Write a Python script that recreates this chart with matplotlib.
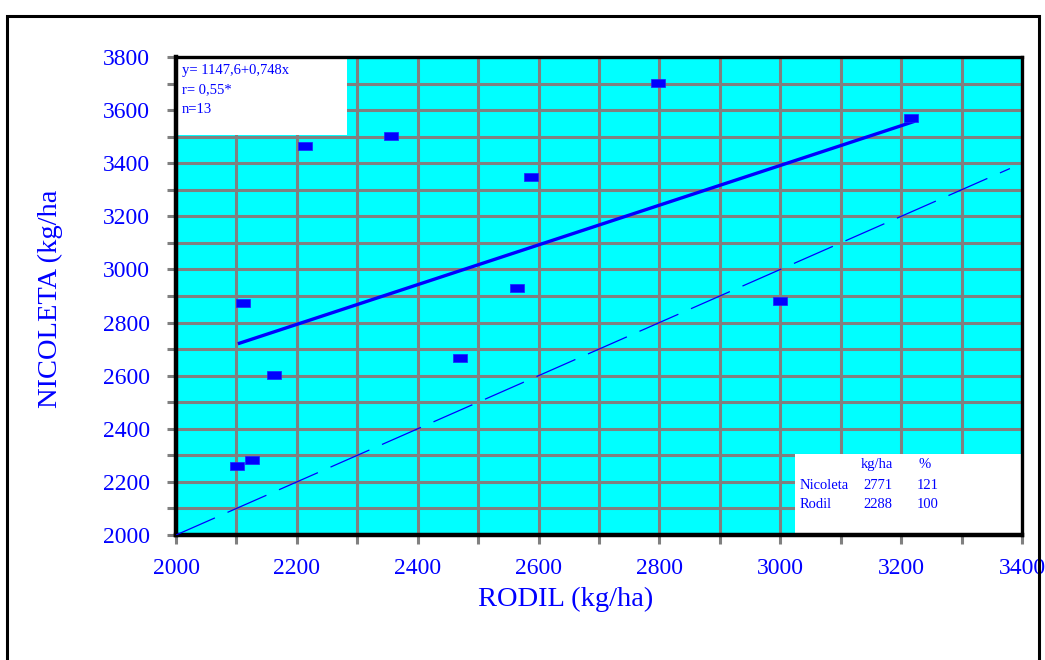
import numpy as np
import matplotlib.pyplot as plt
from matplotlib.patches import Rectangle

# Rendimientos por ensayo (kg/ha)
rodil = [2101, 2126, 2111, 2162, 2214, 2356, 2470, 2565, 2588, 2797, 3000, 3216]
nicoleta = [2260, 2282, 2874, 2603, 3465, 3503, 2667, 2930, 3348, 3702, 2881, 3570]

# Recta de regresión y = a + b x
a, b = 1147.6, 0.748
x_reg = [2105, 3220]

# Linea 1:1
x_iso = [2000, 3380]

# Tabla de medias
tabla_nombres = ['Nicoleta', 'Rodil']
tabla_kg = [2771, 2288]
tabla_pct = [121, 100]

azul = '#0000FF'
serif = ['Liberation Serif', 'DejaVu Serif']
plt.rcParams['font.family'] = serif

fig = plt.figure(figsize=(10.45, 6.6), dpi=100)
ax = fig.add_axes([176 / 1045, 1 - 535 / 660, 846 / 1045, 478 / 660])
ax.set_facecolor('#00FFFF')

# marco exterior
fig.add_artist(Rectangle((7 / 1045, -0.05), 1032 / 1045, 1.05 - 16 / 660,
                         transform=fig.transFigure, fill=False,
                         edgecolor='black', linewidth=2.2))

ax.set_xlim(2000, 3400)
ax.set_ylim(2000, 3800)
ax.set_xticks(np.arange(2000, 3401, 100))
ax.set_yticks(np.arange(2000, 3801, 100))
ax.set_xticklabels([str(v) if v % 200 == 0 else '' for v in range(2000, 3401, 100)])
ax.set_yticklabels([str(v) if v % 200 == 0 else '' for v in range(2000, 3801, 100)])
ax.set_axisbelow(True)
ax.grid(True, color='#808080', linewidth=2.2)
ax.tick_params(direction='out', length=6.5, width=2.2, color='#808080',
               labelcolor=azul, labelsize=17)
ax.tick_params(axis='x', pad=10)
ax.tick_params(axis='y', pad=12)
for s in ax.spines.values():
    s.set_color('black')
    s.set_linewidth(2.4)
ax.spines['left'].set_linewidth(3.2)
ax.spines['bottom'].set_linewidth(3.2)

# puntos
marca = [(-1, -0.62), (1, -0.62), (1, 0.62), (-1, 0.62), (-1, -0.62)]
ax.plot(rodil, nicoleta, linestyle='none', marker=marca, markersize=10,
        color=azul, markeredgecolor='#2020FF', markeredgewidth=0.5, zorder=4)

# regresión y 1:1
ax.plot(x_reg, [a + b * v for v in x_reg], color=azul, linewidth=2.4, zorder=3)
ax.plot(x_iso, x_iso, color=azul, linewidth=0.9, dashes=(34, 11), zorder=3)

# cuadro de la ecuación
ax.add_patch(Rectangle((2000, 3506), 283, 294, facecolor='white',
                       edgecolor='none', zorder=2))
ax.text(2010, 3751, 'y= 1147,6+0,748x', color=azul, fontsize=10.5, va='center', zorder=5)
ax.text(2010, 3676, 'r= 0,55*', color=azul, fontsize=10.5, va='center', zorder=5)
ax.text(2010, 3601, 'n=13', color=azul, fontsize=10.5, va='center', zorder=5)

# cuadro de medias
ax.add_patch(Rectangle((3025, 2000), 375, 305, facecolor='white',
                       edgecolor='none', zorder=2))
ax.text(3133, 2267, 'kg/ha', color=azul, fontsize=10.5, va='center', zorder=5)
ax.text(3229, 2267, '%', color=azul, fontsize=10.5, va='center', zorder=5)
for fila, (nom, kg, pct) in enumerate(zip(tabla_nombres, tabla_kg, tabla_pct)):
    yy = 2185 - fila * 72
    ax.text(3032, yy, nom, color=azul, fontsize=10.5, va='center', zorder=5)
    ax.text(3137, yy, str(kg), color=azul, fontsize=10.5, va='center', zorder=5)
    ax.text(3225, yy, str(pct), color=azul, fontsize=10.5, va='center', zorder=5)

ax.set_xlabel('RODIL (kg/ha)', color=azul, fontsize=20.5)
ax.xaxis.set_label_coords(0.461, -0.108)
ax.set_ylabel('NICOLETA (kg/ha', color=azul, fontsize=20.5)
ax.yaxis.set_label_coords(-0.134, 0.494)

fig.savefig('out.png', dpi=100)
